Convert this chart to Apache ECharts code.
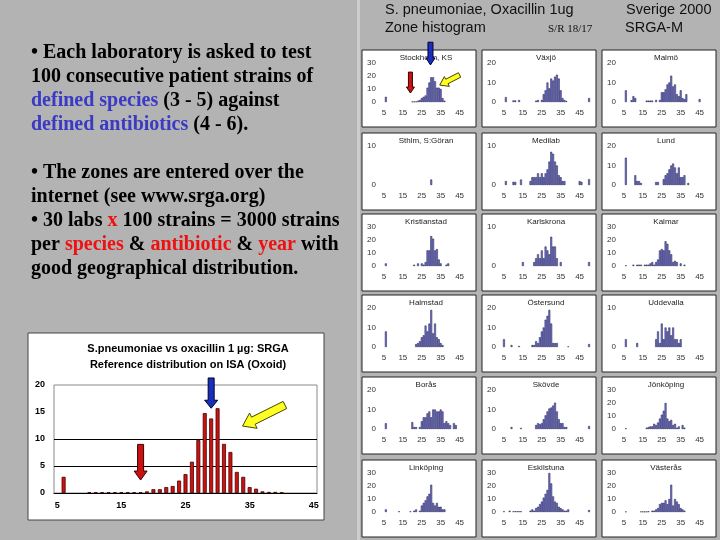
<!DOCTYPE html>
<html><head><meta charset="utf-8">
<script src="https://cdn.jsdelivr.net/npm/echarts@6/dist/echarts.min.js"></script>
<style>html,body{margin:0;padding:0;background:#b3b3b3}#c{width:720px;height:540px}</style>
</head><body><div id="c"></div>
<script>
// ---- Reference distribution (big chart) ----
const bigZones = [5,6,7,8,9,10,11,12,13,14,15,16,17,18,19,20,21,22,23,24,25,26,27,28,29,30,31,32,33,34,35,36,37,38,39,40,41,42,43,44,45];
const refDistribution = [[6,3.0],[10,0.15],[11,0.15],[12,0.15],[13,0.15],[14,0.15],[15,0.15],[16,0.15],[17,0.15],[18,0.15],[19,0.3],[20,0.7],[21,0.7],[22,1.1],[23,1.3],[24,2.3],[25,3.5],[26,5.8],[27,9.8],[28,14.8],[29,13.8],[30,15.7],[31,9.1],[32,7.6],[33,3.9],[34,3.0],[35,1.1],[36,0.8],[37,0.3],[38,0.2],[39,0.2],[40,0.1]];

// ---- Lab zone histograms (small charts) ----
const smallZones = [5,6,7,8,9,10,11,12,13,14,15,16,17,18,19,20,21,22,23,24,25,26,27,28,29,30,31,32,33,34,35,36,37,38,39,40,41,42,43,44,45,46,47,48,49,50];
const labNames = ['Stockholm, KS','Växjö','Malmö','Sthlm, S:Göran','Medilab','Lund','Kristianstad','Karlskrona','Kalmar','Halmstad','Östersund','Uddevalla','Borås','Skövde','Jönköping','Linköping','Eskilstuna','Västerås'];
const labYMax = [30,20,20,10,10,20,30,10,30,20,20,10,20,20,30,30,30,30];

const stockholmKS = [[6,4],[20,0.3],[21,0.3],[22,0.3],[23,1],[24,1.5],[25,3],[26,4],[27,5],[28,11],[29,15],[30,19],[31,19],[32,16],[33,11],[34,11],[35,10],[36,3],[37,1]];
const vaxjo = [[6,2.5],[10,0.8],[11,0.8],[13,1],[22,0.7],[23,1],[25,1],[26,4],[27,6],[28,10],[29,7],[30,12],[31,11],[32,13],[33,14],[34,12],[35,6],[36,2],[37,1],[38,0.5],[50,2]];
const malmo = [[6,6],[9,1],[10,3],[11,2],[17,0.7],[18,0.7],[19,0.7],[20,0.7],[22,1],[24,1],[25,5],[26,5],[27,6.5],[28,9],[29,10],[30,13.5],[31,8],[32,9],[33,4],[34,3],[35,6],[36,2],[37,1.5],[38,4],[45,1.5]];
const sthlmSGoran = [[30,1.4]];
const medilab = [[6,1],[10,0.8],[11,0.8],[14,1.4],[19,1],[20,2],[21,2],[22,2],[23,3],[24,2],[25,3],[26,2],[27,3],[28,4],[29,6],[30,8.5],[31,8],[32,6],[33,5],[34,2.5],[35,2],[36,1],[37,1],[45,1],[46,0.8],[50,1.5]];
const lund = [[6,14],[11,5],[12,2],[13,2],[14,1],[22,1.5],[23,1.5],[26,3],[27,5],[28,6],[29,8],[30,10],[31,11],[32,9],[33,6],[34,9],[35,4],[36,4],[37,5],[39,1]];
const kristianstad = [[6,2],[21,1],[23,2],[25,2],[26,1],[27,3],[28,12],[29,12],[30,23],[31,21],[32,12],[33,13],[34,5],[35,2],[38,1],[39,2]];
const karlskrona = [[15,1],[21,1],[22,2],[23,3],[24,2],[25,4],[26,2],[27,5],[28,4],[29,3],[30,7.5],[31,5],[32,5],[33,2],[35,1],[50,1]];
const kalmar = [[6,0.5],[10,1],[12,1],[13,1],[14,1],[16,1],[17,1],[18,1],[19,2],[20,3],[21,1],[22,3],[23,5],[24,12],[25,13],[26,12],[27,19],[28,17],[29,12],[30,9],[31,3],[32,4],[33,3],[35,2],[37,1]];
const halmstad = [[6,8],[22,1.5],[23,2],[24,3],[25,5],[26,6],[27,11],[28,8],[29,12],[30,19],[31,7],[32,12],[33,5],[34,4],[35,2],[36,1]];
const ostersund = [[5,4],[9,1],[13,0.5],[20,1],[21,1],[22,3],[23,2],[24,5],[25,8],[26,10],[27,14],[28,16],[29,19],[30,12],[31,2],[32,2],[33,2],[39,0.3],[50,1.5]];
const uddevalla = [[6,2],[12,1],[22,2],[23,4],[24,1],[25,6],[26,2],[27,5],[28,4],[29,5],[30,3],[31,5],[32,2],[33,2],[34,1],[35,2]];
const boras = [[6,3],[20,3.5],[21,1],[22,1],[24,1],[25,4],[26,6],[27,6],[28,8],[29,9],[30,6],[31,10],[32,10],[33,9],[34,9],[35,10],[36,9],[37,3],[38,4],[39,3],[40,2],[42,3],[43,2]];
const skovde = [[9,1],[14,0.5],[22,2],[23,3],[24,2.5],[25,3],[26,5],[27,7],[28,9],[29,10.5],[30,11],[31,12],[32,13.5],[33,9],[34,5],[35,3],[36,3],[37,1],[38,1],[50,1.5]];
const jonkoping = [[6,0.5],[17,1],[18,1.5],[19,2],[20,2],[21,4],[22,3],[23,5],[24,8],[25,11],[26,14],[27,20],[28,8],[29,6],[30,7],[31,3],[32,4],[33,1],[34,2],[36,3],[37,1]];
const linkoping = [[6,2],[13,0.5],[19,0.5],[21,1],[22,2],[24,1],[25,5],[26,7],[27,9],[28,12],[29,14],[30,21],[31,7],[32,5],[33,7],[34,4],[35,4],[36,2],[37,2]];
const eskilstuna = [[5,0.5],[8,1],[10,0.5],[11,0.5],[12,0.5],[13,0.5],[14,0.5],[19,1],[20,2],[21,1],[22,3],[23,4],[24,6],[25,8],[26,11],[27,14],[28,17],[29,30],[30,22],[31,12],[32,8],[33,7],[34,4],[35,3],[36,2],[37,1],[38,1],[39,2],[50,1.5]];
const vasteras = [[6,0.3],[14,0.3],[15,0.3],[16,0.3],[17,0.3],[18,0.5],[20,1],[21,1],[22,2],[23,3],[24,6],[25,7],[26,7],[27,9],[28,6],[29,10],[30,21],[31,5],[32,10],[33,8],[34,6],[35,3],[36,2],[37,1]];
const labSeries = [stockholmKS,vaxjo,malmo,sthlmSGoran,medilab,lund,kristianstad,karlskrona,kalmar,halmstad,ostersund,uddevalla,boras,skovde,jonkoping,linkoping,eskilstuna,vasteras];

// ---- Arrow annotations: [zone, value] tail -> tip ----
const bigRedArrow = [[18,9.0],[18,2.4]];
const bigBlueArrow = [[29,21.3],[29,15.7]];
const bigYellowArrow = [[40.5,16.3],[33.9,12.4]];
const smallRedArrow = [[19,23],[19,6.9]];
const smallBlueArrow = [[29.6,46],[29.6,28.5]];
const smallYellowArrow = [[45,20.8],[34.5,13]];

// ---- layout ----
const panelLeft = [362, 482, 602];
const panelTop = [50, 133, 214, 295, 377, 460];
const PW = 114, PH = 77;
const SANS = '"Liberation Sans", Arial, sans-serif';
const SERIF = '"Liberation Serif", "Times New Roman", serif';

function toSeries(pairs, zones) {
  return zones.map(z => { const f = pairs.find(p => p[0] === z); return f ? f[1] : '-'; });
}

const chart = echarts.init(document.getElementById('c'), null, {renderer: 'canvas'});

const grids = [{left: 54, top: 385, width: 263, height: 108, show: true, borderColor: '#8a8a8a', borderWidth: 1, backgroundColor: '#fff'}];
const xAxes = [{type: 'category', gridIndex: 0, data: bigZones, boundaryGap: true,
  axisLine: {lineStyle: {color: '#000', width: 1}}, axisTick: {show: false},
  axisLabel: {interval: 9, fontSize: 9, fontWeight: 'bold', color: '#000', fontFamily: SANS, margin: 8}}];
const yAxes = [{type: 'value', gridIndex: 0, min: 0, max: 20, interval: 5,
  axisLine: {show: false}, axisTick: {show: false},
  splitLine: {show: true, lineStyle: {color: ['rgba(0,0,0,0)', '#000', '#000', 'rgba(0,0,0,0)', 'rgba(0,0,0,0)'], width: 1}},
  axisLabel: {fontSize: 9, fontWeight: 'bold', color: '#000', fontFamily: SANS, margin: 9}}];
const series = [{type: 'bar', xAxisIndex: 0, yAxisIndex: 0, data: toSeries(refDistribution, bigZones), barWidth: '62%',
  itemStyle: {color: '#cc1111', borderColor: '#4a0000', borderWidth: 0.8}}];

const graphics = [];
graphics.push({id: 'sep', type: 'rect', shape: {x: 357, y: 0, width: 3, height: 540}, style: {fill: '#cdcdcd'}, z: -20, silent: true});
graphics.push({id: 'bigpanel', type: 'rect', shape: {x: 28, y: 333, width: 296, height: 187}, style: {fill: '#fff', stroke: '#444', lineWidth: 1}, z: -10, silent: true});

labNames.forEach((name, i) => {
  const row = Math.floor(i / 3), col = i % 3;
  const L = panelLeft[col], T = panelTop[row];
  const g = i + 1;
  graphics.push({id: 'panel' + i, type: 'rect', shape: {x: L, y: T, width: PW, height: PH}, style: {fill: '#fff', stroke: '#222', lineWidth: 1}, z: -10, silent: true});
  graphics.push({id: 'ttl' + i, type: 'text', x: L + 64, y: T + 8, z: 10, silent: true,
    style: {text: name, fontSize: 8, fontFamily: SANS, fill: '#222', align: 'center', verticalAlign: 'middle'}});
  grids.push({left: L + 21, top: T + 13, width: 87, height: 39});
  xAxes.push({type: 'category', gridIndex: g, data: smallZones, boundaryGap: true,
    axisLine: {show: false}, axisTick: {show: false},
    axisLabel: {interval: (idx, v) => ((Number(v) - 5) % 10 === 0 && Number(v) <= 45), fontSize: 8, color: '#333', fontFamily: SANS, margin: 7}});
  yAxes.push({type: 'value', gridIndex: g, min: 0, max: labYMax[i], interval: 10,
    axisLine: {show: false}, axisTick: {show: false}, splitLine: {show: false},
    axisLabel: {fontSize: 8, color: '#333', fontFamily: SANS, margin: 7}});
  series.push({type: 'bar', xAxisIndex: g, yAxisIndex: g, data: toSeries(labSeries[i], smallZones), barCategoryGap: '0%',
    itemStyle: {color: '#7a7ae2', borderColor: '#14143a', borderWidth: 0.5}});
});

// big chart titles
graphics.push({id: 'bt1', type: 'text', x: 188, y: 349, z: 10, silent: true,
  style: {text: 'S.pneumoniae vs oxacillin 1 µg: SRGA', fontSize: 11, fontWeight: 'bold', fontFamily: SANS, fill: '#000', align: 'center', verticalAlign: 'middle'}});
graphics.push({id: 'bt2', type: 'text', x: 188, y: 365, z: 10, silent: true,
  style: {text: 'Reference distribution on ISA (Oxoid)', fontSize: 11, fontWeight: 'bold', fontFamily: SANS, fill: '#000', align: 'center', verticalAlign: 'middle'}});

// header
const hdr = [
  ['h1', 'S. pneumoniae, Oxacillin 1ug', 385, 10, 14.5, SANS],
  ['h2', 'Zone histogram', 385, 28, 14.5, SANS],
  ['h3', 'S/R 18/17', 548, 29, 11, SERIF],
  ['h4', 'Sverige 2000', 626, 10, 14.5, SANS],
  ['h5', 'SRGA-M', 625, 28, 14.5, SANS]
];
hdr.forEach(h => graphics.push({id: h[0], type: 'text', x: h[2], y: h[3], z: 10, silent: true,
  style: {text: h[1], fontSize: h[4], fontFamily: h[5], fill: '#111', verticalAlign: 'middle'}}));

// left paragraph
const BLUE = '#3a3ac4', RED = '#ee1111';
const PF = 20;
const richStyles = {
  b: {fill: BLUE, fontSize: PF, fontWeight: 'bold', fontFamily: SERIF},
  r: {fill: RED, fontSize: PF, fontWeight: 'bold', fontFamily: SERIF}
};
const paraLines = [
  ['• Each laboratory is asked to test', 53],
  ['100 consecutive patient strains of', 77],
  ['{b|defined species} (3 - 5) against', 101],
  ['{b|defined antibiotics} (4 - 6).', 125],
  ['• The zones are entered over the', 173],
  ['internet (see www.srga.org)', 197],
  ['• 30 labs {r|x} 100 strains = 3000 strains', 221],
  ['per {r|species} & {r|antibiotic} & {r|year} with', 245],
  ['good geographical distribution.', 269]
];
paraLines.forEach((l, k) => graphics.push({id: 'p' + k, type: 'text', x: 31, y: l[1], z: 10, silent: true,
  style: {text: l[0], fontSize: PF, fontWeight: 'bold', fontFamily: SERIF, fill: '#000', verticalAlign: 'middle', rich: richStyles}}));

chart.setOption({
  animation: false,
  backgroundColor: '#b3b3b3',
  grid: grids, xAxis: xAxes, yAxis: yAxes, series: series,
  graphic: {elements: graphics}
});

// ---- arrows positioned through the chart's own coordinate system ----
function toPx(g, zone, val, z0) {
  const f = Math.floor(zone), t = zone - f;
  const a = chart.convertToPixel({gridIndex: g}, [f - z0, val]);
  if (t === 0) return a;
  const b = chart.convertToPixel({gridIndex: g}, [f + 1 - z0, val]);
  return [a[0] + (b[0] - a[0]) * t, a[1]];
}
function arrowPts(p1, p2, sw, hw, hl) {
  const dx = p2[0] - p1[0], dy = p2[1] - p1[1];
  const len = Math.sqrt(dx * dx + dy * dy);
  const ux = dx / len, uy = dy / len, nx = -uy, ny = ux;
  const bx = p2[0] - ux * hl, by = p2[1] - uy * hl;
  return [
    [p1[0] + nx * sw / 2, p1[1] + ny * sw / 2],
    [bx + nx * sw / 2, by + ny * sw / 2],
    [bx + nx * hw / 2, by + ny * hw / 2],
    [p2[0], p2[1]],
    [bx - nx * hw / 2, by - ny * hw / 2],
    [bx - nx * sw / 2, by - ny * sw / 2],
    [p1[0] - nx * sw / 2, p1[1] - ny * sw / 2]
  ];
}
function arrow(id, g, z0, spec, sw, hw, hl, fill, stroke) {
  const p1 = toPx(g, spec[0][0], spec[0][1], z0), p2 = toPx(g, spec[1][0], spec[1][1], z0);
  return {id: id, type: 'polygon', z: 50, silent: true, shape: {points: arrowPts(p1, p2, sw, hw, hl)},
    style: {fill: fill, stroke: stroke, lineWidth: 1}};
}
chart.setOption({graphic: {elements: [
  arrow('aBR', 0, 5, bigRedArrow, 6, 13, 9, '#cc1111', '#3a0000'),
  arrow('aBB', 0, 5, bigBlueArrow, 6, 13, 8, '#1a2fb8', '#000033'),
  arrow('aBY', 0, 5, bigYellowArrow, 8, 17, 12, '#ffff22', '#444400'),
  arrow('aSR', 1, 5, smallRedArrow, 4, 8, 6, '#cc1111', '#3a0000'),
  arrow('aSB', 1, 5, smallBlueArrow, 5, 9, 7, '#1a2fb8', '#000033'),
  arrow('aSY', 1, 5, smallYellowArrow, 5, 11, 8, '#ffff22', '#444400')
]}});
</script></body></html>
